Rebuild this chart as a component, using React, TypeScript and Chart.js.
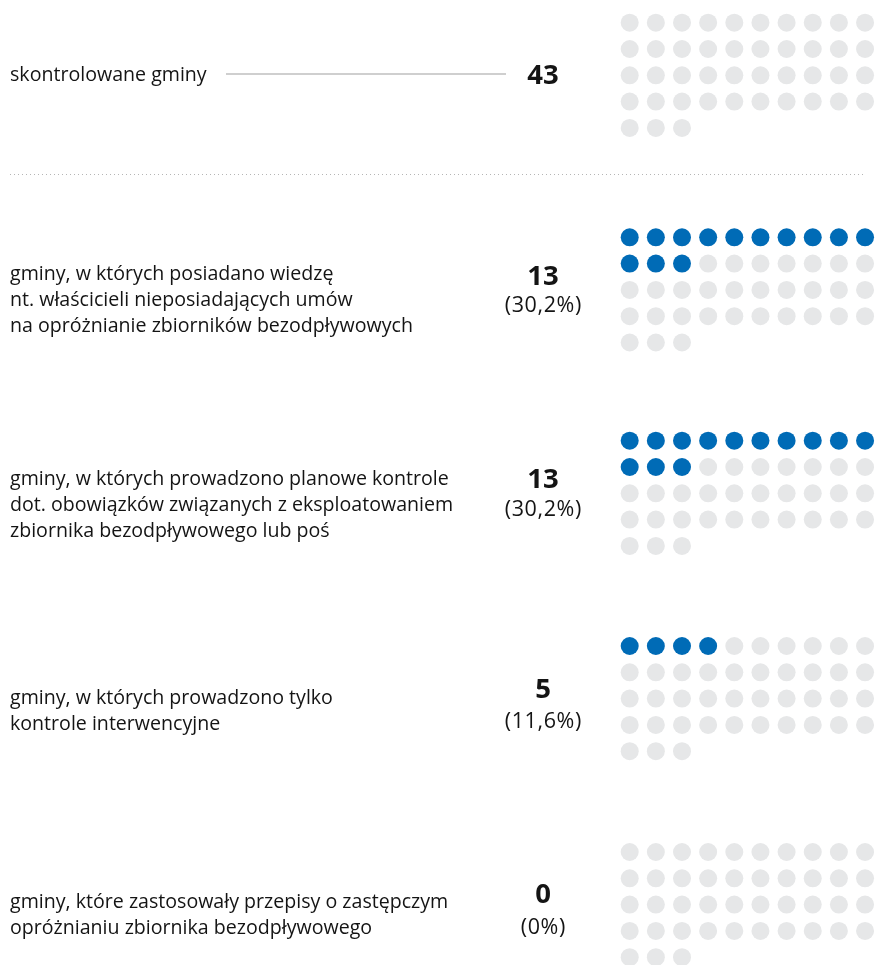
import React, { useEffect, useRef } from "react";
import { Chart, registerables } from "chart.js";

Chart.register(...registerables);

// ---------- data ----------
const categoryLabels: string[][] = [
  ["skontrolowane gminy"],
  [
    "gminy, w których posiadano wiedzę",
    "nt. właścicieli nieposiadających umów",
    "na opróżnianie zbiorników bezodpływowych",
  ],
  [
    "gminy, w których prowadzono planowe kontrole",
    "dot. obowiązków związanych z eksploatowaniem",
    "zbiornika bezodpływowego lub poś",
  ],
  ["gminy, w których prowadzono tylko", "kontrole interwencyjne"],
  ["gminy, które zastosowały przepisy o zastępczym", "opróżnianiu zbiornika bezodpływowego"],
];
const values: number[] = [43, 13, 13, 5, 0];
const percentLabels: string[] = ["", "(30,2%)", "(30,2%)", "(11,6%)", "(0%)"];
const highlightedDots: number[] = [0, 13, 13, 4, 0];
const totalDots = 43;

// ---------- layout ----------
const W = 875;
const H = 965;
const DOTS_PER_ROW = 10;
const GRID_LEFT = 629.7;
const PITCH_X = 26.15;
const PITCH_Y = 26.3;
const BLOCK_TOP = [22.7, 237.3, 440.7, 646, 852];
const LABEL_X = 10;
const LABEL_FIRST_MID = [75, 274, 479, 698, 902];
const LABEL_LINE_H = 26.4;
const NUMBER_X = 543;
const NUMBER_MID = [76, 277, 480, 690, 895];
const PCT_MID = [0, 306, 510, 722, 928];
const SEPARATOR_Y = 174;

const BLUE = "#006bb6";
const GREY = "#e6e7e8";
const FONT = "'Open Sans', 'Noto Sans', sans-serif";

function buildDatasets() {
  return values.map((_, b) => {
    const pts: { x: number; y: number }[] = [];
    const colors: string[] = [];
    for (let i = 0; i < totalDots; i++) {
      const col = i % DOTS_PER_ROW;
      const row = Math.floor(i / DOTS_PER_ROW);
      pts.push({ x: GRID_LEFT + col * PITCH_X, y: BLOCK_TOP[b] + row * PITCH_Y });
      colors.push(i < highlightedDots[b] ? BLUE : GREY);
    }
    return {
      data: pts,
      pointBackgroundColor: colors,
      pointBorderWidth: 0,
      pointRadius: 9,
      pointHoverRadius: 9,
      showLine: false,
    };
  });
}

const textPlugin = {
  id: "textPlugin",
  afterDraw(chart: any) {
    const ctx = chart.ctx as CanvasRenderingContext2D;
    const xs = chart.scales.x;
    const ys = chart.scales.y;
    const px = (v: number) => xs.getPixelForValue(v);
    const py = (v: number) => ys.getPixelForValue(v);
    ctx.save();
    ctx.fillStyle = "#141414";
    ctx.textBaseline = "middle";
    categoryLabels.forEach((lines, b) => {
      ctx.font = `19.6px ${FONT}`;
      ctx.textAlign = "left";
      (ctx as any).letterSpacing = "0px";
      lines.forEach((ln, li) => {
        ctx.fillText(ln, px(LABEL_X), py(LABEL_FIRST_MID[b] + li * LABEL_LINE_H));
      });
      ctx.textAlign = "center";
      ctx.font = `bold 27.5px ${FONT}`;
      ctx.fillText(String(values[b]), px(NUMBER_X), py(NUMBER_MID[b]));
      if (percentLabels[b]) {
        ctx.font = `21.5px ${FONT}`;
        (ctx as any).letterSpacing = "0.6px";
        ctx.fillText(percentLabels[b], px(NUMBER_X) + 0.3, py(PCT_MID[b]));
        (ctx as any).letterSpacing = "0px";
      }
    });
    // connector line in first block
    ctx.strokeStyle = "#cfcfcf";
    ctx.lineWidth = 2;
    ctx.beginPath();
    ctx.moveTo(px(226), py(74));
    ctx.lineTo(px(506), py(74));
    ctx.stroke();
    // dotted separator
    ctx.strokeStyle = "#b5b5b5";
    ctx.lineWidth = 1;
    ctx.setLineDash([1, 3]);
    ctx.beginPath();
    ctx.moveTo(px(10), py(SEPARATOR_Y) + 0.5);
    ctx.lineTo(px(866), py(SEPARATOR_Y) + 0.5);
    ctx.stroke();
    ctx.restore();
  },
};

export default function App() {
  const ref = useRef<HTMLCanvasElement | null>(null);
  useEffect(() => {
    if (!ref.current) return;
    const chart = new Chart(ref.current, {
      type: "scatter",
      data: { datasets: buildDatasets() as any },
      options: {
        animation: false,
        responsive: false,
        events: [],
        layout: { padding: 0, autoPadding: false },
        plugins: { legend: { display: false }, tooltip: { enabled: false } },
        scales: {
          x: { type: "linear", min: 0, max: W, display: false },
          y: { type: "linear", min: 0, max: H, reverse: true, display: false },
        },
      },
      plugins: [textPlugin],
    });
    return () => chart.destroy();
  }, []);
  return (
    <div style={{ position: "absolute", left: 0, top: 0, width: W, height: H, background: "#fff" }}>
      <canvas ref={ref} width={W} height={H} style={{ display: "block" }} />
    </div>
  );
}
